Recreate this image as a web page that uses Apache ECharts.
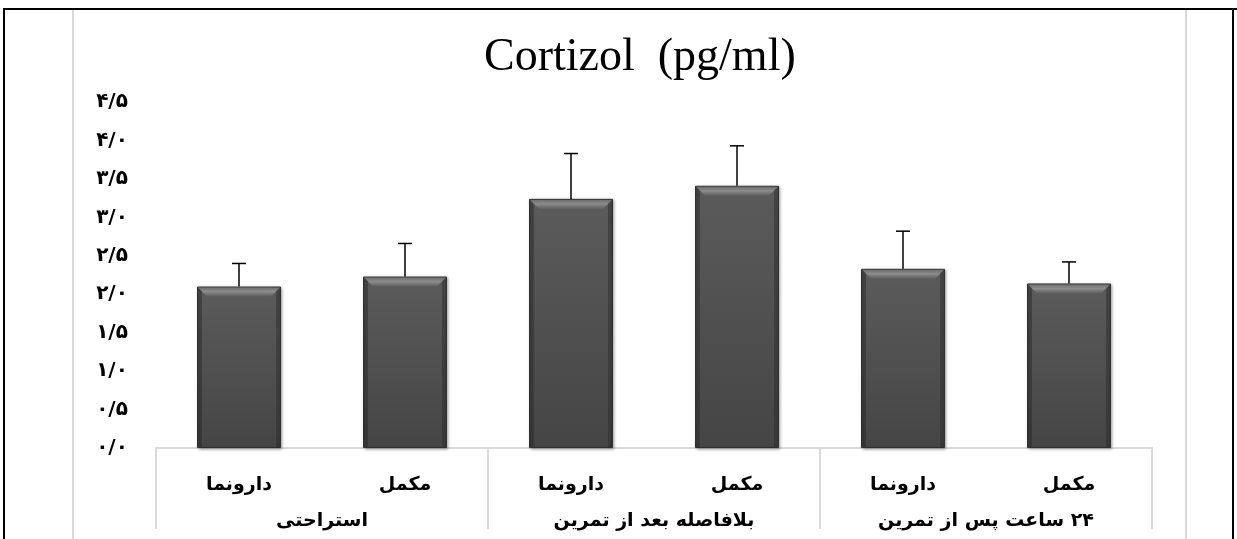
<!DOCTYPE html>
<html>
<head>
<meta charset="utf-8">
<script src="https://cdn.jsdelivr.net/npm/echarts@6/dist/echarts.min.js"></script>
<style>
html,body{margin:0;padding:0;background:#fff;}
#chart{width:1237px;height:539px;}
</style>
</head>
<body>
<div id="chart"></div>
<script>
// ---- data ----
const categories = ['دارونما', 'مکمل', 'دارونما', 'مکمل', 'دارونما', 'مکمل'];
const groups = ['استراحتی', 'بلافاصله بعد از تمرین', '۲۴ ساعت پس از تمرین'];
const means = [2.10, 2.23, 3.24, 3.41, 2.33, 2.14];
const errors = [0.30, 0.43, 0.59, 0.52, 0.49, 0.28];
const yTickLabels = ['۰/۰', '۰/۵', '۱/۰', '۱/۵', '۲/۰', '۲/۵', '۳/۰', '۳/۵', '۴/۰', '۴/۵'];
const titleText = 'Cortizol  (pg/ml)';

const chart = echarts.init(document.getElementById('chart'), null, {renderer: 'canvas'});
const labelFont = 'DejaVu Sans';
const BAR_W = 84;
const RLM = '\u200F';

const option = {
  animation: false,
  backgroundColor: '#ffffff',
  title: {
    text: titleText,
    left: 479,
    top: 30,
    textStyle: {fontFamily: 'Liberation Serif', fontSize: 46, fontWeight: 'normal', color: '#000'}
  },
  grid: {left: 156, right: 85, top: 102, bottom: 91, containLabel: false},
  xAxis: [
    {
      type: 'category',
      data: categories.map((c, i) => 'c' + i),
      position: 'bottom',
      axisLine: {show: true, lineStyle: {color: '#d9d9d9', width: 2}},
      axisTick: {show: false},
      axisLabel: {
        formatter: (v, i) => RLM + categories[i],
        fontFamily: labelFont, fontWeight: 'bold', fontSize: 19, color: '#000', margin: 28
      },
      splitLine: {show: false}
    },
    {
      type: 'category',
      data: groups,
      position: 'bottom',
      gridIndex: 0,
      axisLine: {show: false},
      axisTick: {show: true, length: 81, interval: 0, lineStyle: {color: '#d9d9d9', width: 2}},
      axisLabel: {
        formatter: v => RLM + v,
        fontFamily: labelFont, fontWeight: 'bold', fontSize: 19, color: '#000', margin: 64, interval: 0
      },
      splitLine: {show: false}
    }
  ],
  yAxis: {
    type: 'value',
    min: 0,
    max: 4.5,
    interval: 0.5,
    axisLine: {show: false},
    axisTick: {show: false},
    splitLine: {show: false},
    axisLabel: {
      formatter: v => yTickLabels[Math.round(v / 0.5)],
      fontFamily: labelFont, fontWeight: 'bold', fontSize: 20, color: '#000',
      align: 'center', margin: 44
    }
  },
  series: [
    {
      type: 'bar',
      xAxisIndex: 0,
      data: means,
      barWidth: BAR_W,
      itemStyle: {
        color: new echarts.graphic.LinearGradient(0, 0, 0, 1, [
          {offset: 0, color: '#5b5b5b'},
          {offset: 1, color: '#454545'}
        ]),
        borderColor: '#2f2f2f',
        borderWidth: 1,
        shadowColor: 'rgba(0,0,0,0.35)',
        shadowBlur: 3,
        shadowOffsetX: 1,
        shadowOffsetY: 1
      },
      z: 2
    },
    {
      // bevel highlights on top of bars
      type: 'custom',
      xAxisIndex: 0,
      data: means.map((m, i) => [i, m]),
      renderItem: function (params, api) {
        const p = api.coord([api.value(0), api.value(1)]);
        const base = api.coord([api.value(0), 0]);
        const x0 = p[0] - BAR_W / 2 + 1, x1 = p[0] + BAR_W / 2 - 1, y0 = p[1] + 1, b = 9;
        return {
          type: 'group',
          children: [
            {
              type: 'polygon',
              shape: {points: [[x0, y0], [x1, y0], [x1 - b, y0 + b], [x0 + b, y0 + b]]},
              style: {fill: new echarts.graphic.LinearGradient(0, 0, 0, 1, [
                {offset: 0, color: '#6e6e6e'}, {offset: 0.45, color: '#8c8c8c'}, {offset: 1, color: '#5e5e5e'}
              ])}
            },
            {
              type: 'polygon',
              shape: {points: [[x0, y0], [x0 + 4, y0 + 4], [x0 + 4, base[1] - 1], [x0, base[1] - 1]]},
              style: {fill: 'rgba(40,40,40,0.45)'}
            },
            {
              type: 'polygon',
              shape: {points: [[x1, y0], [x1 - 4, y0 + 4], [x1 - 4, base[1] - 1], [x1, base[1] - 1]]},
              style: {fill: 'rgba(40,40,40,0.45)'}
            }
          ]
        };
      },
      z: 3,
      silent: true
    },
    {
      // error bars
      type: 'custom',
      xAxisIndex: 0,
      data: means.map((m, i) => [i, m, m + errors[i]]),
      renderItem: function (params, api) {
        const lo = api.coord([api.value(0), api.value(1)]);
        const hi = api.coord([api.value(0), api.value(2)]);
        const cap = 7;
        const st = {stroke: '#000', lineWidth: 1.5};
        return {
          type: 'group',
          children: [
            {type: 'line', shape: {x1: lo[0], y1: lo[1], x2: hi[0], y2: hi[1]}, style: st},
            {type: 'line', shape: {x1: hi[0] - cap, y1: hi[1], x2: hi[0] + cap, y2: hi[1]}, style: st}
          ]
        };
      },
      z: 4,
      silent: true
    }
  ],
  graphic: [
    // chart area light border
    {type: 'line', shape: {x1: 73, y1: 10, x2: 73, y2: 539}, style: {stroke: '#d9d9d9', lineWidth: 2}, silent: true},
    {type: 'line', shape: {x1: 1186, y1: 10, x2: 1186, y2: 539}, style: {stroke: '#d9d9d9', lineWidth: 2}, silent: true},
    // outer black frame
    {type: 'line', shape: {x1: 3, y1: 9, x2: 1237, y2: 9}, style: {stroke: '#000', lineWidth: 2}, silent: true},
    {type: 'line', shape: {x1: 4, y1: 9, x2: 4, y2: 539}, style: {stroke: '#000', lineWidth: 2}, silent: true},
    {type: 'line', shape: {x1: 1233, y1: 9, x2: 1233, y2: 539}, style: {stroke: '#000', lineWidth: 2}, silent: true}
  ]
};
chart.setOption(option);
</script>
</body>
</html>
